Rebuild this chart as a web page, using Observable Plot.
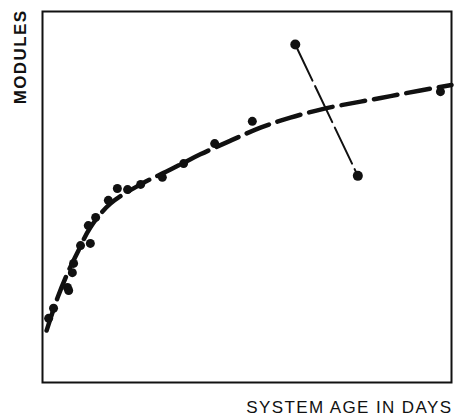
<!DOCTYPE html>
<html>
<head>
<meta charset="utf-8">
<script src="https://cdn.jsdelivr.net/npm/d3@7"></script>
<script src="https://cdn.jsdelivr.net/npm/@observablehq/plot@0.6"></script>
<style>
  html, body { margin: 0; padding: 0; background: #fff; }
  #chart svg { display: block; }
</style>
</head>
<body>
<div id="chart"></div>
<script>
// Observed module counts against system age (relative units)
const ageDays = [1.5, 2.7, 6.1, 6.4, 7.3, 7.6, 9.3, 11.7, 11.2, 13.0, 16.1, 18.3, 20.8, 24.0, 29.3, 34.5, 42.1, 51.3, 97.3];
const modules = [17.3, 20.0, 25.6, 24.8, 29.6, 32.1, 36.9, 37.5, 42.3, 44.5, 49.1, 52.3, 52.0, 53.4, 55.3, 59.0, 64.4, 70.4, 78.4];

// Fitted growth trend
const trendAge = [1.0, 3.7, 6.1, 8.8, 11.7, 16.6, 24.0, 31.3, 38.6, 46.0, 53.3, 60.6, 69.2, 77.8, 85.1, 92.4, 100];
const trendModules = [14.0, 22.9, 29.4, 35.6, 41.8, 48.2, 53.4, 57.4, 61.5, 65.2, 68.7, 71.4, 73.9, 75.7, 77.2, 78.7, 80.2];

// Pair of off-trend observations joined across the trend
const crossAge = [61.8, 77.1];
const crossModules = [91.1, 55.7];

const xLabel = "SYSTEM AGE IN DAYS";
const yLabel = "MODULES";

const points = ageDays.map((x, i) => ({x, y: modules[i]}));
const trend = trendAge.map((x, i) => ({x, y: trendModules[i]}));
const cross = crossAge.map((x, i) => ({x, y: crossModules[i]}));

const font = "'Liberation Sans', Arial, Helvetica, sans-serif";

const chart = Plot.plot({
  width: 454,
  height: 418,
  marginLeft: 42,
  marginRight: 3,
  marginTop: 11,
  marginBottom: 36,
  style: {fontFamily: font, background: "#fff", overflow: "visible"},
  x: {domain: [0, 100], axis: null},
  y: {domain: [0, 100], axis: null},
  marks: [
    Plot.frame({stroke: "#111", strokeWidth: 2}),
    Plot.line(trend, {x: "x", y: "y", curve: "catmull-rom", stroke: "#111", strokeWidth: 4.5, strokeDasharray: "24,9"}),
    Plot.line(cross, {x: "x", y: "y", stroke: "#111", strokeWidth: 2, strokeDasharray: "40,6"}),
    Plot.dot(points, {x: "x", y: "y", r: 4.5, fill: "#111"}),
    Plot.dot(cross, {x: "x", y: "y", r: 5, fill: "#111"}),
    Plot.text([xLabel], {frameAnchor: "bottom-right", textAnchor: "end", lineAnchor: "bottom", dy: 30, dx: 1, fontSize: 17, fill: "#111"}),
    Plot.text([yLabel], {frameAnchor: "top-left", textAnchor: "end", rotate: -90, dx: -29, dy: -2, fontSize: 17, fill: "#111", fontWeight: "bold"})
  ]
});

// Wider letter spacing on the axis titles
d3.select(chart).selectAll("text")
  .filter(function() { return this.textContent === xLabel || this.textContent === yLabel; })
  .attr("letter-spacing", "1.4px");

document.getElementById("chart").appendChild(chart);
</script>
</body>
</html>
